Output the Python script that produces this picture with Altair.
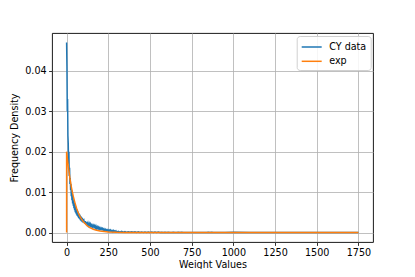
import altair as alt
import pandas as pd

# ---- data ----
blue_x = (list(range(0, 101, 2)) + list(range(104, 301, 4)) + list(range(310, 901, 10))
          + [950, 1000, 1100, 1200, 1300, 1400, 1500, 1600, 1750])
blue_y = [
    # 0..100 step 2
    0.047, 0.041, 0.030, 0.033, 0.024, 0.022, 0.017, 0.020, 0.014, 0.016,
    0.012, 0.0135, 0.0105, 0.0120, 0.0090, 0.0105, 0.0080, 0.0095, 0.0072, 0.0088,
    0.0066, 0.0080, 0.0060, 0.0074, 0.0055, 0.0068, 0.0050, 0.0064, 0.0047, 0.0060,
    0.0044, 0.0056, 0.0041, 0.0053, 0.0039, 0.0050, 0.0036, 0.0047, 0.0034, 0.0045,
    0.0032, 0.0042, 0.0030, 0.0040, 0.0028, 0.0038, 0.0027, 0.0036, 0.0025, 0.0034,
    0.0026,
    # 104..300 step 4
    0.0030, 0.0022, 0.0028, 0.0020, 0.0026, 0.0019, 0.0024, 0.0017, 0.0022, 0.0016,
    0.0021, 0.0015, 0.0019, 0.0014, 0.0018, 0.0013, 0.0017, 0.0011, 0.0016, 0.0010,
    0.0014, 0.0009, 0.0013, 0.0008, 0.0012, 0.0008, 0.0011, 0.0007, 0.0010, 0.0006,
    0.0009, 0.0005, 0.0008, 0.0005, 0.0007, 0.0004, 0.0007, 0.0004, 0.0006, 0.0003,
    0.0006, 0.0003, 0.0005, 0.0002, 0.0005, 0.0002, 0.0004, 0.0002, 0.0004, 0.0001,
    # 310..900 step 10
    0.0003, 0.0001, 0.0003, 0.0001, 0.00025, 0.00005, 0.0002, 0.00005, 0.0002, 0.00005,
    0.0002, 0.0, 0.00018, 0.0, 0.00015, 0.00003, 0.00015, 0.0, 0.00012, 0.0,
    0.00012, 0.0, 0.0001, 0.0, 0.0001, 0.0, 0.00008, 0.0, 0.00005, 0.0,
    0.00005, 0.0, 0.0, 0.00004, 0.0, 0.0, 0.00005, 0.0, 0.00004, 0.0,
    0.0, 0.0, 0.0, 0.0, 0.0, 0.0, 0.0, 0.0, 0.0, 0.0,
    0.0, 0.0, 0.0, 0.0, 0.00005, 0.0, 0.00005, 0.0, 0.0, 0.0,
    # tail
    0.0, 0.00004, 0.0, 0.0, 0.0, 0.0, 0.0, 0.0, 0.0,
]
exp_x = [0, 0, 10, 20, 30, 40, 50, 60, 70, 80, 90, 100, 120, 140, 160, 180, 200,
         250, 300, 350, 400, 500, 600, 800, 1000, 1250, 1500, 1750]
exp_y = [0.0, 0.0200, 0.0164, 0.0134, 0.0110, 0.0090, 0.0074, 0.0060, 0.0049,
         0.0040, 0.0033, 0.0027, 0.0018, 0.0012, 0.0008, 0.00055, 0.00037,
         0.00013, 0.00005, 0.00002, 0.00001, 0.0, 0.0, 0.0, 0.0, 0.0, 0.0, 0.0]

series_names = ["CY data", "exp"]
series_colors = ["#1f77b4", "#ff7f0e"]
x_ticks = [0, 250, 500, 750, 1000, 1250, 1500, 1750]
y_ticks = [0.0, 0.01, 0.02, 0.03, 0.04]

blue_df = pd.DataFrame({"x": blue_x, "y": blue_y, "series": series_names[0],
                        "i": range(len(blue_x))})
exp_df = pd.DataFrame({"x": exp_x, "y": exp_y, "series": series_names[1],
                       "i": range(len(exp_x))})

FONT = "DejaVu Sans"
FS = 9.6

xs = alt.Scale(domain=[-87.5, 1837.5], nice=False, zero=False)
ys = alt.Scale(domain=[-0.00235, 0.04935], nice=False, zero=False)
color = alt.Color("series:N",
                  scale=alt.Scale(domain=series_names, range=series_colors),
                  legend=alt.Legend(title=None, orient="none", legendX=244.7, legendY=3,
                                    symbolType="M-1,0H2.33", symbolSize=144,
                                    symbolStrokeWidth=1.5, labelFontSize=FS,
                                    labelFont=FONT, labelColor="black",
                                    strokeColor="#d0d0d0", fillColor="rgba(255,255,255,0.85)",
                                    cornerRadius=3, padding=4, labelOffset=14.5,
                                    rowPadding=2.3))

xenc = alt.X("x:Q", scale=xs,
             axis=alt.Axis(title="Weight Values", values=x_ticks, format="d"))
yenc = alt.Y("y:Q", scale=ys,
             axis=alt.Axis(title="Frequency Density", values=y_ticks, format=".2f"))

blue = alt.Chart(blue_df).mark_line(strokeWidth=1.45, clip=True).encode(
    x=xenc, y=yenc, color=color, order="i:Q")
orange = alt.Chart(exp_df).mark_line(strokeWidth=1.45, clip=True).encode(
    x=xenc, y=yenc, color=color, order="i:Q")

chart = alt.layer(blue, orange).properties(
    width=321, height=209,
    autosize=alt.AutoSizeParams(type="none"),
    padding={"left": 44, "top": 25, "right": 34, "bottom": 27},
).configure_view(stroke="black", strokeWidth=0.9).configure_axis(
    grid=True, gridColor="#b0b0b0", gridWidth=0.8,
    domain=False, tickColor="black", tickSize=3.4, tickWidth=0.8,
    labelFont=FONT, labelFontSize=FS, labelColor="black", labelPadding=2.5,
    titleFont=FONT, titleFontSize=FS, titleColor="black", titleFontWeight="normal",
).configure_axisX(titlePadding=1.5).configure_axisY(titlePadding=5)

chart.save("out.html", embed_options={"renderer": "svg", "actions": False})
